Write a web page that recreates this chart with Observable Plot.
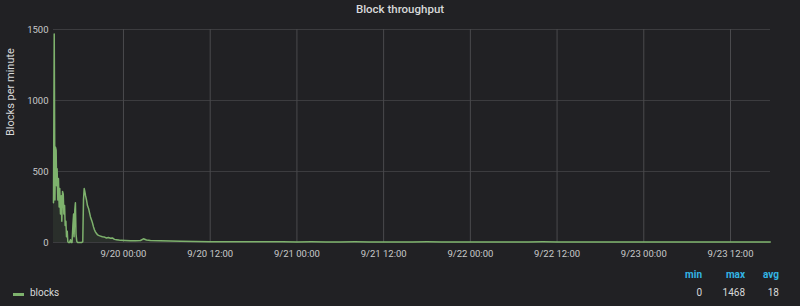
<!DOCTYPE html>
<html>
<head>
<meta charset="utf-8">
<script src="https://cdn.jsdelivr.net/npm/d3@7"></script>
<script src="https://cdn.jsdelivr.net/npm/@observablehq/plot@0.6"></script>
<style>
  html, body { margin: 0; padding: 0; background: #212124; }
  #panel { position: relative; width: 800px; height: 306px; background: #212124; overflow: hidden;
           font-family: Roboto, "Noto Sans", sans-serif; color: #d8d9da; }
  #title { position: absolute; top: 0; left: 0; width: 800px; text-align: center;
           font-size: 11.5px; font-weight: 500; line-height: 18px; color: #d8d9da; }
  #chart { position: absolute; top: 0; left: 0; }
  .lg { position: absolute; font-size: 10px; line-height: 12px; }
  .hdr { color: #33b5e5; font-weight: 700; text-align: right; }
  .val { color: #d8d9da; text-align: right; }
  #swatch { position: absolute; left: 13px; top: 293px; width: 11px; height: 3px; background: #7EB26D; }
</style>
</head>
<body>
<div id="panel">
  <div id="title"></div>
  <div id="chart"></div>
  <div id="swatch"></div>
  <div id="legendName" class="lg" style="left:30px; top:287px;"></div>
  <div id="stats"></div>
</div>
<script>
// ---- data ----
const chartTitle = "Block throughput";
const yLabel = "Blocks per minute";
const seriesName = "blocks";
const timeRange = ["2019-09-19 14:19", "2019-09-23 17:32"];
const yTicks = [0, 500, 1000, 1500];
const statNames = ["min", "max", "avg"];
const statValues = [0, 1468, 18];

const times = [
  "2019-09-19 14:19","2019-09-19 14:25","2019-09-19 14:31","2019-09-19 14:36","2019-09-19 14:41",
  "2019-09-19 14:45","2019-09-19 14:49","2019-09-19 14:55","2019-09-19 15:00","2019-09-19 15:06",
  "2019-09-19 15:11","2019-09-19 15:17","2019-09-19 15:23","2019-09-19 15:28","2019-09-19 15:34",
  "2019-09-19 15:40","2019-09-19 15:45","2019-09-19 15:51","2019-09-19 15:56","2019-09-19 16:02",
  "2019-09-19 16:07","2019-09-19 16:13","2019-09-19 16:18","2019-09-19 16:24","2019-09-19 16:32",
  "2019-09-19 16:40","2019-09-19 16:46","2019-09-19 16:53","2019-09-19 17:00","2019-09-19 17:06",
  "2019-09-19 17:10","2019-09-19 17:16","2019-09-19 17:21","2019-09-19 17:26","2019-09-19 17:32",
  "2019-09-19 17:38","2019-09-19 17:55","2019-09-19 18:11","2019-09-19 18:22","2019-09-19 18:28",
  "2019-09-19 18:34","2019-09-19 18:39","2019-09-19 18:45","2019-09-19 18:53","2019-09-19 19:01",
  "2019-09-19 19:10","2019-09-19 19:18","2019-09-19 19:26","2019-09-19 19:34","2019-09-19 19:42",
  "2019-09-19 19:51","2019-09-19 19:59","2019-09-19 20:07","2019-09-19 20:15","2019-09-19 20:24",
  "2019-09-19 20:32","2019-09-19 20:49","2019-09-19 21:05","2019-09-19 21:22","2019-09-19 21:39",
  "2019-09-19 21:55","2019-09-19 22:12","2019-09-19 22:28","2019-09-19 22:45","2019-09-19 23:02",
  "2019-09-19 23:18","2019-09-19 23:35","2019-09-20 00:16","2019-09-20 00:58","2019-09-20 01:40",
  "2019-09-20 02:21","2019-09-20 02:46","2019-09-20 03:11","2019-09-20 03:44","2019-09-20 05:07",
  "2019-09-20 06:30","2019-09-20 07:53",
  "2019-09-20 10:00","2019-09-20 12:00","2019-09-20 14:00","2019-09-20 16:00","2019-09-20 18:00",
  "2019-09-20 20:00","2019-09-20 22:00","2019-09-21 00:00","2019-09-21 02:00","2019-09-21 04:00",
  "2019-09-21 06:00","2019-09-21 08:00","2019-09-21 10:00","2019-09-21 12:00","2019-09-21 14:00",
  "2019-09-21 16:00","2019-09-21 18:00","2019-09-21 20:00","2019-09-21 22:00","2019-09-22 00:00",
  "2019-09-22 02:00","2019-09-22 04:00","2019-09-22 06:00","2019-09-22 08:00","2019-09-22 10:00",
  "2019-09-22 12:00","2019-09-22 14:00","2019-09-22 16:00","2019-09-22 18:00","2019-09-22 20:00",
  "2019-09-22 22:00","2019-09-23 00:00","2019-09-23 02:00","2019-09-23 04:00","2019-09-23 06:00",
  "2019-09-23 08:00","2019-09-23 10:00","2019-09-23 12:00","2019-09-23 14:00","2019-09-23 16:00",
  "2019-09-23 17:30"
];
const blocks = [
  280, 1468, 300, 670, 650,
  400, 520, 300, 450, 250,
  380, 200, 330, 150, 360,
  340, 200, 260, 120, 150,
  40, 80, 5, 0, 0,
  20, 0, 0, 120, 200,
  40, 230, 280, 60, 10,
  0, 0, 0, 5, 300,
  380, 360, 330, 300, 260,
  240, 210, 180, 160, 140,
  110, 90, 75, 65, 55,
  50, 45, 40, 38, 32,
  35, 30, 32, 22, 20,
  18, 15, 14, 12, 12,
  14, 26, 18, 14, 12,
  10, 8,
  7, 6, 6, 5, 5,
  6, 5, 4, 5, 4,
  4, 5, 4, 3, 4,
  4, 5, 4, 3, 3,
  4, 3, 3, 4, 5,
  4, 3, 4, 3, 3,
  4, 3, 3, 4, 3,
  3, 4, 3, 4, 3,
  3
];

// ---- build ----
const parse = d3.utcParse("%Y-%m-%d %H:%M");
const data = times.map((t, i) => ({t: parse(t), v: blocks[i]}));
const domain = timeRange.map(parse);
const green = "#7EB26D";

document.getElementById("title").textContent = chartTitle;
document.getElementById("legendName").textContent = seriesName;

const chart = Plot.plot({
  width: 800,
  height: 264,
  marginLeft: 53,
  marginRight: 30,
  marginTop: 29,
  marginBottom: 22,
  style: {background: "transparent", color: "#c8c9ca", fontFamily: "Roboto, sans-serif", fontSize: "9.5px"},
  x: {type: "utc", domain},
  y: {domain: [yTicks[0], yTicks[yTicks.length - 1]]},
  marks: [
    Plot.gridY(yTicks, {stroke: "#3c3c3f", strokeOpacity: 1}),
    Plot.gridX({ticks: d3.utcHour.every(12), stroke: "#4a4a4d", strokeOpacity: 1}),
    Plot.areaY(data, {x: "t", y: "v", fill: green, fillOpacity: 0.1}),
    Plot.lineY(data, {x: "t", y: "v", stroke: green, strokeWidth: 1.5}),
    Plot.axisX({ticks: d3.utcHour.every(12), tickFormat: d3.utcFormat("%-m/%d %H:%M"),
                tickSize: 0, tickPadding: 8, label: null}),
    Plot.axisY(yTicks, {tickSize: 0, tickPadding: 5, tickFormat: d => String(d), label: null}),
    Plot.text([yLabel], {frameAnchor: "left", rotate: -90, dx: -43, fontSize: 11,
                         fill: "#d8d9da", text: d => d})
  ]
});
document.getElementById("chart").appendChild(chart);

// legend stats
const statRight = [702, 745, 779];
const stats = document.getElementById("stats");
statNames.forEach((n, i) => {
  const h = document.createElement("div");
  h.className = "lg hdr";
  h.style.left = (statRight[i] - 40) + "px";
  h.style.width = "40px";
  h.style.top = "269px";
  h.textContent = n;
  stats.appendChild(h);
  const v = document.createElement("div");
  v.className = "lg val";
  v.style.left = (statRight[i] - 40) + "px";
  v.style.width = "40px";
  v.style.top = "287px";
  v.textContent = statValues[i];
  stats.appendChild(v);
});
</script>
</body>
</html>
